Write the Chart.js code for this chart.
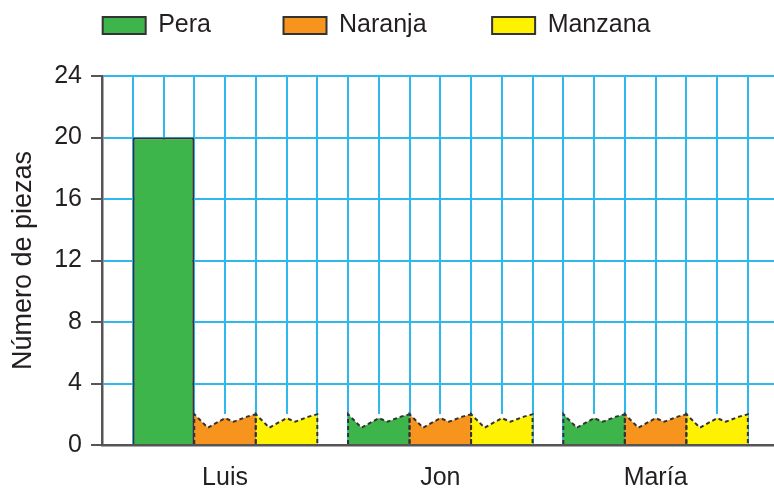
<!DOCTYPE html>
<html lang="es">
<head>
<meta charset="utf-8">
<title>Número de piezas</title>
<script src="https://cdn.jsdelivr.net/npm/chart.js@4.4.1/dist/chart.umd.min.js"></script>
<style>
  html, body { margin: 0; padding: 0; background: #fff; }
</style>
</head>
<body>
<canvas id="grafica" width="774" height="488"></canvas>
<script>
// Datos
const personas = ['Luis', 'Jon', 'María'];
const frutas = ['Pera', 'Naranja', 'Manzana'];
const pera = [20, 2, 2];
const naranja = [2, 2, 2];
const manzana = [2, 2, 2];
// barras sin terminar (borde ondulado): el valor está por averiguar
const peraPendiente = [false, true, true];
const naranjaPendiente = [true, true, true];
const manzanaPendiente = [true, true, true];
const yEtiquetas = [0, 4, 8, 12, 16, 20, 24];

const series = [pera, naranja, manzana];
const pendientes = [peraPendiente, naranjaPendiente, manzanaPendiente];
const colores = ['#3db54a', '#f7941d', '#fff200'];
const azul = '#2fb8ee';
const gris = '#555';

// el eje x va en cuadros de la cuadrícula: cada persona ocupa 7 (1 libre + 2 por fruta)
const CUADROS = 7;
const posBarra = (i, j) => CUADROS * i + 2 + 2 * j;
const posNombre = i => CUADROS * i + 4;

// huecos en la leyenda, como en el original
const relleno = [' '.repeat(9), ' '.repeat(8), ' '.repeat(3)];

// forma de la parte de arriba de las barras pendientes (fracción de ancho, fracción de alto)
const onda = [[0, 1], [0.22, 0.55], [0.5, 0.87], [0.64, 0.75], [0.86, 0.92], [1, 1]];

const margenLeyenda = {
  id: 'margenLeyenda',
  beforeInit(chart) {
    const fitOriginal = chart.legend.fit;
    chart.legend.fit = function () {
      fitOriginal.bind(chart.legend)();
      this.height += 28;
    };
  }
};

const bordeOndulado = {
  id: 'bordeOndulado',
  afterDatasetsDraw(chart) {
    const ctx = chart.ctx;
    chart.data.datasets.forEach((ds, j) => {
      chart.getDatasetMeta(j).data.forEach((bar, i) => {
        if (!ds.pendiente[i]) return;
        const { x, y, base, width } = bar.getProps(['x', 'y', 'base', 'width'], true);
        const izq = x - width / 2;
        const der = x + width / 2;
        const alto = base - y;
        const puntos = onda.map(([fx, fy]) => [izq + fx * width, base - fy * alto]);

        ctx.save();
        // tapar en blanco lo que queda por encima de la onda
        ctx.beginPath();
        ctx.moveTo(izq, y - 0.2);
        puntos.forEach(([px, py]) => ctx.lineTo(px, py));
        ctx.lineTo(der, y - 0.2);
        ctx.closePath();
        ctx.fillStyle = '#fff';
        ctx.fill();

        // contorno discontinuo
        ctx.beginPath();
        ctx.moveTo(izq, base);
        puntos.forEach(([px, py]) => ctx.lineTo(px, py));
        ctx.lineTo(der, base);
        ctx.setLineDash([4, 3]);
        ctx.lineWidth = 2;
        ctx.strokeStyle = '#333';
        ctx.stroke();
        ctx.restore();
      });
    });
  }
};

Chart.defaults.font.family = "'Liberation Sans', Arial, sans-serif";
Chart.defaults.font.size = 25;
Chart.defaults.color = '#231f20';

new Chart(document.getElementById('grafica'), {
  type: 'bar',
  data: {
    datasets: frutas.map((fruta, j) => ({
      label: fruta,
      data: series[j].map((v, i) => ({ x: posBarra(i, j), y: v })),
      backgroundColor: colores[j],
      borderColor: '#333',
      borderWidth: ctx => (ctx.type === 'data' && pendientes[j][ctx.dataIndex]) ? 0 : 2,
      pendiente: pendientes[j]
    }))
  },
  options: {
    responsive: false,
    animation: false,
    grouped: false,
    barPercentage: 2,
    categoryPercentage: 1,
    layout: { padding: { top: 3, left: 0, right: 0, bottom: 0 } },
    plugins: {
      tooltip: { enabled: false },
      legend: {
        position: 'top',
        labels: {
          boxWidth: 43,
          boxHeight: 17,
          padding: 10,
          color: '#231f20',
          generateLabels(chart) {
            const items = Chart.defaults.plugins.legend.labels.generateLabels(chart);
            items.forEach((it, k) => {
              it.text = it.text + relleno[k];
              it.lineWidth = 2;
              it.strokeStyle = '#333';
            });
            return items;
          }
        }
      }
    },
    scales: {
      x: {
        type: 'linear',
        min: 0,
        max: 21.85,
        offset: false,
        afterFit: axis => { axis.height = 43; },
        grid: { color: azul, lineWidth: 2, drawTicks: false, offset: false },
        border: { color: gris, width: 2.5 },
        ticks: {
          stepSize: 1,
          includeBounds: false,
          autoSkip: false,
          maxRotation: 0,
          padding: 18,
          callback: value => {
            const i = personas.findIndex((p, k) => posNombre(k) === value);
            return i >= 0 ? personas[i] : '';
          }
        }
      },
      y: {
        min: 0,
        max: 24,
        afterFit: axis => { axis.width = 102; },
        grid: {
          color: azul,
          lineWidth: 2,
          tickLength: 11,
          tickColor: ctx => yEtiquetas.includes(ctx.tick.value) ? gris : 'rgba(0,0,0,0)',
          tickWidth: 2
        },
        border: { color: gris, width: 2.5 },
        ticks: {
          stepSize: 2,
          padding: 9,
          callback: value => yEtiquetas.includes(value) ? value : ''
        },
        title: {
          display: true,
          text: 'Número de piezas',
          font: { size: 27 },
          padding: { top: 7, bottom: 0 }
        }
      }
    }
  },
  plugins: [margenLeyenda, bordeOndulado]
});
</script>
</body>
</html>
